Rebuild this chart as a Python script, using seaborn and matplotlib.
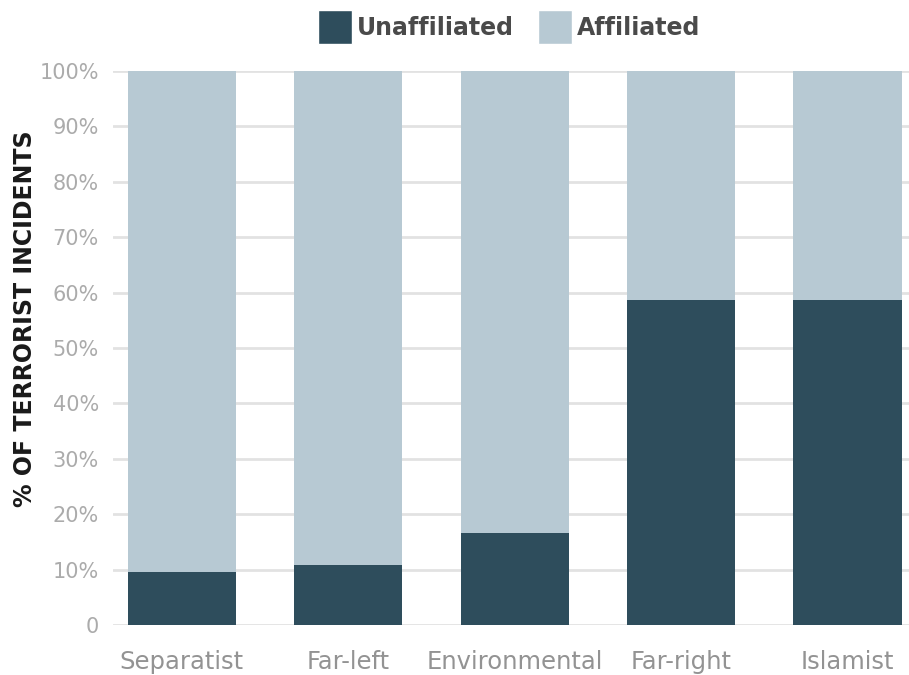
import matplotlib
matplotlib.use("Agg")
import matplotlib.pyplot as plt
import seaborn as sns
import pandas as pd
from matplotlib.patches import Patch

categories = ["Separatist", "Far-left", "Environmental", "Far-right", "Islamist"]
unaffiliated = [9.6, 10.8, 16.6, 58.6, 58.6]
affiliated = [100 - u for u in unaffiliated]
yticks = [0, 10, 20, 30, 40, 50, 60, 70, 80, 90, 100]
ytick_labels = ["0", "10%", "20%", "30%", "40%", "50%", "60%", "70%", "80%", "90%", "100%"]

dark = "#2e4d5c"
light = "#b7c9d3"

sns.set_theme(style="white")
plt.rcParams['font.family'] = ['DejaVu Sans']

df = pd.DataFrame({"cat": categories, "un": unaffiliated, "af": affiliated})
df["total"] = df["un"] + df["af"]

fig = plt.figure(figsize=(9.09, 6.75), dpi=100)
ax = fig.add_axes([0.124, 0.074, 0.876, 0.821])

for y in yticks:
    ax.axhline(y, color="#e2e2e2", lw=2, zorder=0)

sns.barplot(data=df, x="cat", y="total", color=light, width=0.65, ax=ax,
            saturation=1, zorder=2, linewidth=0)
sns.barplot(data=df, x="cat", y="un", color=dark, width=0.65, ax=ax,
            saturation=1, zorder=3, linewidth=0)

ax.set_xlim(-0.415, 4.37)
ax.set_ylim(0, 100)
ax.set_yticks(yticks)
ax.set_yticklabels(ytick_labels)
ax.tick_params(axis="y", labelsize=15, length=0, pad=10)
ax.tick_params(axis="x", labelsize=17.5, length=0, pad=18)
for lab in ax.get_yticklabels():
    lab.set_color("#ababab")
for lab in ax.get_xticklabels():
    lab.set_color("#939393")
ax.set_xlabel("")
ax.set_ylabel("% OF TERRORIST INCIDENTS", fontsize=17, fontweight="bold",
              color="#1a1a1a")
ax.yaxis.set_label_coords(-0.095, 0.552)
for s in ax.spines.values():
    s.set_visible(False)
ax.grid(False)

handles = [Patch(facecolor=dark, label="Unaffiliated"),
           Patch(facecolor=light, label="Affiliated")]
leg = fig.legend(handles=handles, loc="center", bbox_to_anchor=(0.56, 0.96),
                 ncol=2, frameon=False, handlelength=1.44, handleheight=1.9,
                 handletextpad=0.2, columnspacing=1.05,
                 prop={"size": 17, "weight": "bold"})
for t in leg.get_texts():
    t.set_color("#4a4a4a")

fig.savefig("out.png", dpi=100)
